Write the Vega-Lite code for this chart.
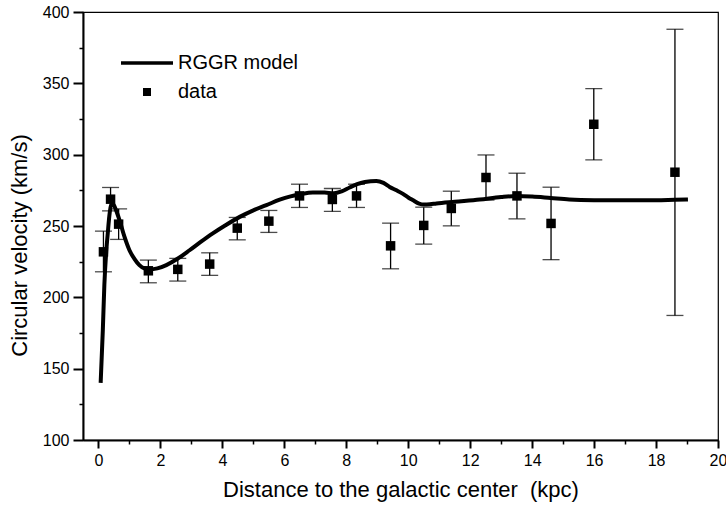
{
  "$schema": "https://vega.github.io/schema/vega-lite/v6.json",
  "autosize": "none",
  "width": 635,
  "height": 428,
  "padding": {"left": 83, "top": 12, "right": 8, "bottom": 71},
  "background": "white",
  "config": {
    "font": "Liberation Sans",
    "view": {"stroke": "black", "strokeWidth": 1.2},
    "axis": {"grid": false, "domainColor": "black", "domainWidth": 2, "tickColor": "black", "labelColor": "black", "titleColor": "black", "labelFont": "Liberation Sans", "titleFont": "Liberation Sans", "titleFontWeight": "normal"}
  },
  "datasets": {
    "model": [
      {"r": 0.07, "v": 140}, {"r": 0.14, "v": 177}, {"r": 0.19, "v": 209}, {"r": 0.25, "v": 232}, {"r": 0.30, "v": 245},
      {"r": 0.35, "v": 257}, {"r": 0.41, "v": 265}, {"r": 0.47, "v": 265.5}, {"r": 0.55, "v": 262}, {"r": 0.68, "v": 254},
      {"r": 0.83, "v": 243}, {"r": 1.0, "v": 233}, {"r": 1.16, "v": 227}, {"r": 1.32, "v": 222.6}, {"r": 1.48, "v": 220.3},
      {"r": 1.65, "v": 219.6}, {"r": 1.9, "v": 220.3}, {"r": 2.19, "v": 222.6}, {"r": 2.55, "v": 227}, {"r": 2.94, "v": 233},
      {"r": 3.3, "v": 238.8}, {"r": 3.69, "v": 244.8}, {"r": 4.1, "v": 250.5}, {"r": 4.56, "v": 256.4}, {"r": 5.0, "v": 261},
      {"r": 5.42, "v": 264.6}, {"r": 5.85, "v": 268.5}, {"r": 6.2, "v": 270.8}, {"r": 6.49, "v": 272.1}, {"r": 6.92, "v": 273.5},
      {"r": 7.3, "v": 273.4}, {"r": 7.6, "v": 273}, {"r": 7.85, "v": 274.3}, {"r": 8.11, "v": 277}, {"r": 8.35, "v": 279.3},
      {"r": 8.6, "v": 280.8}, {"r": 8.97, "v": 281.6}, {"r": 9.2, "v": 280.2}, {"r": 9.4, "v": 277.4}, {"r": 9.62, "v": 275},
      {"r": 9.83, "v": 272.5}, {"r": 10.0, "v": 270}, {"r": 10.16, "v": 268}, {"r": 10.35, "v": 265.7}, {"r": 10.5, "v": 265},
      {"r": 10.7, "v": 265.2}, {"r": 10.91, "v": 265.8}, {"r": 11.5, "v": 267}, {"r": 12.31, "v": 268.6}, {"r": 13.0, "v": 270.3},
      {"r": 13.51, "v": 271}, {"r": 14.0, "v": 270.6}, {"r": 14.6, "v": 269.6}, {"r": 15.2, "v": 268.6}, {"r": 16.0, "v": 268.1},
      {"r": 17.0, "v": 268}, {"r": 18.0, "v": 268.1}, {"r": 18.6, "v": 268.4}, {"r": 19.03, "v": 268.6}
    ],
    "obs": [
      {"r": 0.16, "v": 231.9, "lo": 217.9, "hi": 246.4, "series": "data"},
      {"r": 0.39, "v": 268.8, "lo": 260.6, "hi": 277.0, "series": "data"},
      {"r": 0.65, "v": 251.3, "lo": 240.6, "hi": 262.0, "series": "data"},
      {"r": 1.61, "v": 218.6, "lo": 210.2, "hi": 226.1, "series": "data"},
      {"r": 2.56, "v": 219.6, "lo": 211.4, "hi": 227.3, "series": "data"},
      {"r": 3.59, "v": 223.3, "lo": 215.4, "hi": 231.2, "series": "data"},
      {"r": 4.48, "v": 248.5, "lo": 240.3, "hi": 256.0, "series": "data"},
      {"r": 5.50, "v": 253.4, "lo": 245.5, "hi": 260.9, "series": "data"},
      {"r": 6.49, "v": 271.1, "lo": 263.0, "hi": 279.3, "series": "data"},
      {"r": 7.55, "v": 268.6, "lo": 260.2, "hi": 276.3, "series": "data"},
      {"r": 8.33, "v": 271.1, "lo": 263.0, "hi": 279.3, "series": "data"},
      {"r": 9.43, "v": 236.1, "lo": 220.0, "hi": 252.0, "series": "data"},
      {"r": 10.50, "v": 250.4, "lo": 237.3, "hi": 263.2, "series": "data"},
      {"r": 11.39, "v": 262.3, "lo": 250.1, "hi": 274.4, "series": "data"},
      {"r": 12.51, "v": 284.0, "lo": 268.2, "hi": 299.8, "series": "data"},
      {"r": 13.51, "v": 271.1, "lo": 255.0, "hi": 287.0, "series": "data"},
      {"r": 14.61, "v": 251.8, "lo": 226.4, "hi": 277.2, "series": "data"},
      {"r": 15.99, "v": 321.3, "lo": 296.3, "hi": 346.3, "series": "data"},
      {"r": 18.61, "v": 287.7, "lo": 187.3, "hi": 387.9, "series": "data"}
    ]
  },
  "encoding": {
    "x": {
      "field": "r", "type": "quantitative",
      "scale": {"domain": [-0.5, 20], "nice": false, "zero": false},
      "axis": {
        "title": "Distance to the galactic center \u00a0(kpc)",
        "values": [0,1,2,3,4,5,6,7,8,9,10,11,12,13,14,15,16,17,18,19,20],
        "labelExpr": "datum.value % 2 === 0 ? datum.label : ''",
        "tickSize": {"condition": {"test": "datum.value % 2 !== 0", "value": 4}, "value": 8},
        "tickWidth": {"condition": {"test": "datum.value % 2 !== 0", "value": 1.5}, "value": 2},
        "labelFontSize": 16, "labelPadding": 4, "labelFlush": false,
        "titleFontSize": 22, "titleBaseline": "middle", "titleY": 49
      }
    },
    "y": {
      "field": "v", "type": "quantitative",
      "scale": {"domain": [100, 400], "nice": false, "zero": false},
      "axis": {
        "title": "Circular velocity (km/s)",
        "values": [100,125,150,175,200,225,250,275,300,325,350,375,400],
        "labelExpr": "datum.value % 50 === 0 ? datum.label : ''",
        "tickSize": {"condition": {"test": "datum.value % 50 !== 0", "value": 4}, "value": 10},
        "tickWidth": {"condition": {"test": "datum.value % 50 !== 0", "value": 1.5}, "value": 2},
        "labelFontSize": 16, "labelPadding": 4,
        "titleFontSize": 22, "titleBaseline": "middle", "titleX": -64, "titleY": 233
      }
    }
  },
  "layer": [
    {
      "data": {"name": "obs"},
      "mark": {"type": "errorbar", "ticks": {"size": 17, "color": "black", "thickness": 1.3}, "rule": {"color": "black", "strokeWidth": 1.3}},
      "encoding": {
        "y": {"field": "lo", "type": "quantitative"},
        "y2": {"field": "hi"}
      }
    },
    {
      "data": {"name": "model"},
      "mark": {"type": "line", "color": "black", "strokeWidth": 4, "interpolate": "monotone"},
      "encoding": {}
    },
    {
      "data": {"name": "obs"},
      "mark": {"type": "point", "filled": true, "size": 90, "color": "black", "opacity": 1},
      "encoding": {
        "shape": {
          "field": "series", "type": "nominal",
          "scale": {"domain": ["RGGR model", "data"], "range": ["M-6.5,-0.45L6.5,-0.45L6.5,0.45L-6.5,0.45Z", "square"]},
          "legend": {
            "title": null,
            "orient": "none",
            "legendX": 54,
            "legendY": 41,
            "symbolSize": 64,
            "symbolFillColor": "black",
            "symbolStrokeWidth": 0,
            "labelFontSize": 20,
            "labelFont": "Liberation Sans",
            "labelColor": "black",
            "labelOffset": 21,
            "rowPadding": 9,
            "padding": 0
          }
        }
      }
    }
  ]
}
